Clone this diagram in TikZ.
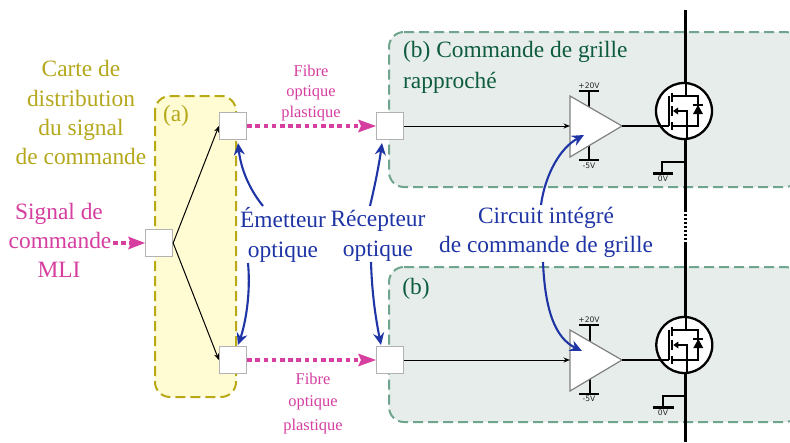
\documentclass[tikz,border=0pt]{standalone}
\usepackage{fontspec}
\setmainfont{Liberation Serif}
\newfontfamily\dvfont{DejaVu Sans}
\usetikzlibrary{arrows.meta,calc}
\definecolor{olivetxt}{HTML}{B5A81C}
\definecolor{oliveline}{HTML}{B8A915}
\definecolor{yellowbg}{HTML}{FFFBD2}
\definecolor{pinkc}{HTML}{D63FA0}
\definecolor{greenline}{HTML}{6FA58C}
\definecolor{greenbg}{HTML}{E7EDEB}
\definecolor{greentxt}{HTML}{0D5C3E}
\definecolor{bluec}{HTML}{1F35A5}
\tikzset{
  x=1pt,y=-1pt,
  optobox/.style={draw=black!30,line width=1.3pt,fill=white,minimum size=27pt,inner sep=0pt},
  signal/.style={draw=black,line width=1pt,-{Stealth[length=6.5pt,width=5pt]}},
  fibre/.style={draw=pinkc,line width=4.6pt,dash pattern=on 4.6pt off 3.6pt,shorten >=8pt},
  callout/.style={draw=bluec,line width=2.1pt,-{Stealth[length=12pt,width=11pt]}},
  lbl/.style={font=\fontsize{23.4}{23.4}\selectfont,inner sep=0pt,align=center,text height=15pt,text depth=5pt},
  small/.style={font=\fontsize{16.4}{16.4}\selectfont,inner sep=0pt,text=pinkc,text height=11pt,text depth=3pt},
  volt/.style={font=\dvfont\fontsize{7.6}{7.6}\selectfont,inner sep=0pt,text=black!85},
  zone/.style={dashed,dash pattern=on 10pt off 5pt,line width=2pt,rounded corners=15pt},
  power/.style={line width=2.3pt,draw=black},
  amp/.style={draw=black!50,line width=1.2pt,fill=white,line join=miter}
}
\newcommand{\mosfet}[2]{%
  \begin{scope}[shift={(#1,#2)}]
    \draw[line width=2.3pt,fill=white] (0,0) circle (28);
    \draw[line width=2.3pt] (-15,15) -- (-15,-15);
    \draw[line width=2.3pt] (-12,-18) -- (-12,-9) (-12,-5) -- (-12,5) (-12,11) -- (-12,19);
    \draw[line width=2.1pt] (-12,-15) -- (14,-15) -- (14,15) -- (-12,15);
    \draw[line width=2.1pt] (2,-15) -- (2,-29);
    \draw[line width=2.1pt] (-7,0) -- (3,0) -- (3,29);
    \fill (-11,0) -- (-6,-3.5) -- (-6,3.5) -- cycle;
    \fill (14,-6) -- (9,3) -- (19,3) -- cycle;
    \draw[line width=1.8pt] (9,-6) -- (19,-6);
  \end{scope}}
\begin{document}
\begin{tikzpicture}
\useasboundingbox (0,0) rectangle (790,442);
\fill[white] (0,0) rectangle (790,442);
% zones
\draw[zone,draw=oliveline,fill=yellowbg] (155,96) rectangle (236,397);
\draw[zone,draw=greenline,fill=greenbg] (389,32) -- (800,32) -- (800,187) -- (389,187) -- cycle;
\draw[zone,draw=greenline,fill=greenbg] (389,267) -- (800,267) -- (800,422) -- (389,422) -- cycle;
% bus
\draw[line width=2.7pt] (685.6,10) -- (685.6,210);
\draw[line width=2.7pt,dash pattern=on 2pt off 2pt] (685.6,210) -- (685.6,243);
\draw[line width=2.7pt] (685.6,243) -- (685.6,442);
% optical boxes
\node[optobox] (src) at (159,243) {};
\node[optobox] (ea) at (233,126) {};
\node[optobox] (eb) at (233,360) {};
\node[optobox] (ra) at (390,126) {};
\node[optobox] (rb) at (390,360) {};
% supply stems and bars
\draw[power] (579,91) -- (599,91) (589,91) -- (589,110);
\draw[power] (579,160) -- (599,160) (589,160) -- (589,142);
\draw[power] (579,325) -- (599,325) (590,325) -- (590,345);
\draw[power] (579,394) -- (599,394) (590,394) -- (590,376);
% amplifiers
\coordinate (ampaIn) at (570,126);
\coordinate (ampaOut) at (622,126);
\coordinate (ampbIn) at (570,360);
\coordinate (ampbOut) at (622,360);
\coordinate (gatea) at (669,126);
\coordinate (gateb) at (669,360);
\draw[amp] (570,96) -- (622,126) -- (570,157) -- cycle;
\draw[amp] (570,330) -- (622,360) -- (570,391) -- cycle;
\mosfet{684}{111}
\mosfet{684.3}{345}
\draw[line width=2.2pt] (ampaOut) -- (gatea);
\draw[line width=2.2pt] (ampbOut) -- (gateb);
% grounds
\draw[line width=1.7pt] (685.6,162) -- (662,162) -- (662,173);
\draw[line width=2.3pt] (653,173.5) -- (673,173.5);
\draw[line width=1.7pt] (685.6,396) -- (663,396) -- (663,407);
\draw[line width=2.3pt] (653,407.5) -- (674,407.5);
% labels of supplies
\node[volt] (va) at (589,85.5) {+20V};
\node[volt] (vb) at (589,166) {-5V};
\node[volt] (vc) at (589,320) {+20V};
\node[volt] (vd) at (589,399) {-5V};
\node[volt] (ve) at (663,179) {0V};
\node[volt] (vf) at (663,413) {0V};
% signals
\draw[signal] (src.east) -- (ea.west);
\draw[signal] (src.east) -- (eb.west);
\draw[signal] (ra.east) -- (ampaIn);
\draw[signal] (rb.east) -- (ampbIn);
% fibres
\coordinate (mliStart) at (113,243);
\draw[fibre] (ea.east) -- (ra.west);
\draw[fibre] (eb.east) -- (rb.west);
\draw[fibre] (mliStart) -- (src.west);
\fill[pinkc] (376,126) -- (358,119.5) -- (361,126) -- (358,132.5) -- cycle;
\fill[pinkc] (376,360) -- (358,353.5) -- (361,360) -- (358,366.5) -- cycle;
\fill[pinkc] (145,243) -- (128,236.5) -- (131,243) -- (128,249.5) -- cycle;
% texts
\node[lbl,text=olivetxt] (carte1) at (81,71) {Carte de};
\node[lbl,text=olivetxt] (carte2) at (81,101) {distribution};
\node[lbl,text=olivetxt] (carte3) at (81,130) {du signal};
\node[lbl,text=olivetxt] (carte4) at (81,159) {de commande};
\node[lbl,text=olivetxt] (a) at (176,116) {(a)};
\node[lbl,text=pinkc] (s1) at (59,214) {Signal de};
\node[lbl,text=pinkc] (s2) at (60,243) {commande};
\node[lbl,text=pinkc] (s3) at (59,272) {MLI};
\node[small] (f1) at (311,72) {Fibre};
\node[small] (f2) at (311,92) {optique};
\node[small] (f3) at (311,113) {plastique};
\node[small] (f4) at (313,380) {Fibre};
\node[small] (f5) at (313,402) {optique};
\node[small] (f6) at (313,426) {plastique};
\node[lbl,text=greentxt,anchor=west] (b1) at (403,52) {(b) Commande de grille};
\node[lbl,text=greentxt,anchor=west] (b2) at (403,83) {rapproché};
\node[lbl,text=greentxt] (b3) at (416,289) {(b)};
\node[lbl,text=bluec] (em1) at (283,222) {Émetteur};
\node[lbl,text=bluec] (em2) at (283,252) {optique};
\node[lbl,text=bluec] (rc1) at (378,221) {Récepteur};
\node[lbl,text=bluec] (rc2) at (378,251) {optique};
\node[lbl,text=bluec] (ci1) at (546,218) {Circuit intégré};
\node[lbl,text=bluec] (ci2) at (546,247) {de commande de grille};
% callouts
\coordinate (ca) at (263,206);
\coordinate (cb) at (248,263);
\coordinate (cc) at (370,206);
\coordinate (cd) at (371,262);
\coordinate (ce) at (541,205);
\coordinate (cf) at (543,262);
\coordinate (ta) at (238,143);
\coordinate (tb) at (238,345);
\coordinate (tc) at (382,143);
\coordinate (td) at (381,345);
\coordinate (te) at (584,135);
\coordinate (tf) at (582,351);
\draw[callout] (ca) .. controls (250,190) and (241,170) .. (ta);
\draw[callout] (cb) .. controls (251,295) and (245,325) .. (tb);
\draw[callout] (cc) .. controls (375,185) and (379,165) .. (tc);
\draw[callout] (cd) .. controls (372,295) and (376,320) .. (td);
\draw[callout] (ce) .. controls (545,175) and (560,148) .. (te);
\draw[callout] (cf) .. controls (545,310) and (555,338) .. (tf);
\end{tikzpicture}
\end{document}
